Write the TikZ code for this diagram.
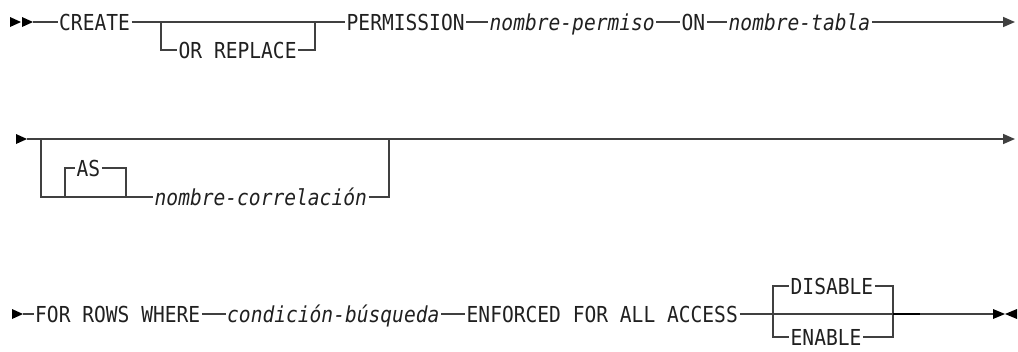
\documentclass[tikz,border=0pt]{standalone}
\usepackage{fontspec}
\usetikzlibrary{arrows.meta}
\newfontfamily\diafont{DejaVu Sans Mono}[FakeStretch=0.89]
\definecolor{linec}{HTML}{404040}
\definecolor{textc}{HTML}{202020}
\begin{document}
\begin{tikzpicture}[x=1pt,y=-1pt,
  kw/.style={anchor=west,inner xsep=1.5pt,inner ysep=0pt,text height=16pt,text depth=0pt,font=\diafont\fontsize{22}{24}\selectfont,text=textc},
  var/.style={kw,font=\diafont\itshape\fontsize{22}{24}\selectfont},
  rail/.style={draw=linec,line width=1.6pt},
  thickrail/.style={draw=black,line width=2.8pt},
  endarrow/.style={rail,-{Triangle[length=12pt,width=10pt]}},
  tipfill/.style={fill=black}]
\useasboundingbox (0,0) rectangle (1018,351);

% ---------- Row 1 ----------
\fill[tipfill] (10,17) -- (21,22) -- (10,27) -- cycle;
\fill[tipfill] (22,17) -- (33,22) -- (22,27) -- cycle;
\coordinate (s1) at (33,22);
\node[kw] (create) at (57.5,22) {CREATE};
\coordinate (b1L) at (161,22);
\coordinate (b1R) at (315,22);
\node[kw] (orrep) at (177,50) {OR REPLACE};
\node[kw] (perm) at (345,22) {PERMISSION};
\node[var] (np) at (488,22) {nombre-permiso};
\node[kw] (on) at (680,22) {ON};
\node[var] (nt) at (727,22) {nombre-tabla};
\coordinate (e1) at (1015,22);

\draw[rail] (s1) -- (create.west);
\draw[rail] (create.east) -- (perm.west);
\draw[rail] (b1L) |- (orrep.west);
\draw[rail] (orrep.east) -| (b1R);
\draw[rail] (perm.east) -- (np.west);
\draw[rail] (np.east) -- (on.west);
\draw[rail] (on.east) -- (nt.west);
\draw[endarrow] (nt.east) -- (e1);

% ---------- Row 2 ----------
\fill[tipfill] (16,134) -- (27,139) -- (16,144) -- cycle;
\coordinate (s2) at (27,139);
\coordinate (b2L) at (41,139);
\coordinate (b2R) at (389,139);
\coordinate (e2) at (1015,139);
\coordinate (asL) at (65,197);
\coordinate (asR) at (126,197);
\node[kw] (as) at (75,168) {AS};
\node[var] (nc) at (153,197) {nombre-correlación};

\draw[endarrow] (s2) -- (e2);
\draw[rail] (b2L) |- (asL) -- (asR) -- (nc.west);
\draw[rail] (nc.east) -| (b2R);
\draw[rail] (asL) |- (as.west);
\draw[rail] (as.east) -| (asR);

% ---------- Row 3 ----------
\fill[tipfill] (12,309) -- (23,314) -- (12,319) -- cycle;
\coordinate (s3) at (23,314);
\node[kw] (frw) at (33.5,314) {FOR ROWS WHERE};
\node[var] (cb) at (225.5,314) {condición-búsqueda};
\node[kw] (enf) at (465,314) {ENFORCED FOR ALL ACCESS};
\coordinate (cL) at (773,314);
\coordinate (cR) at (893,314);
\node[kw] (dis) at (789,286) {DISABLE};
\node[kw] (ena) at (789,337) {ENABLE};
\coordinate (thk) at (920,314);
\coordinate (e3) at (993,314);

\draw[rail] (s3) -- (frw.west);
\draw[rail] (frw.east) -- (cb.west);
\draw[rail] (cb.east) -- (enf.west);
\draw[rail] (enf.east) -- (cR);
\draw[rail] (cL) |- (dis.west);
\draw[rail] (dis.east) -| (cR);
\draw[rail] (cL) |- (ena.west);
\draw[rail] (ena.east) -| (cR);
\draw[thickrail] (cR) -- (thk);
\draw[rail] (thk) -- (e3);
\fill[tipfill] (993,309) -- (1005,314) -- (993,319) -- cycle;
\fill[tipfill] (1017,309) -- (1005,314) -- (1017,319) -- cycle;
\end{tikzpicture}
\end{document}
